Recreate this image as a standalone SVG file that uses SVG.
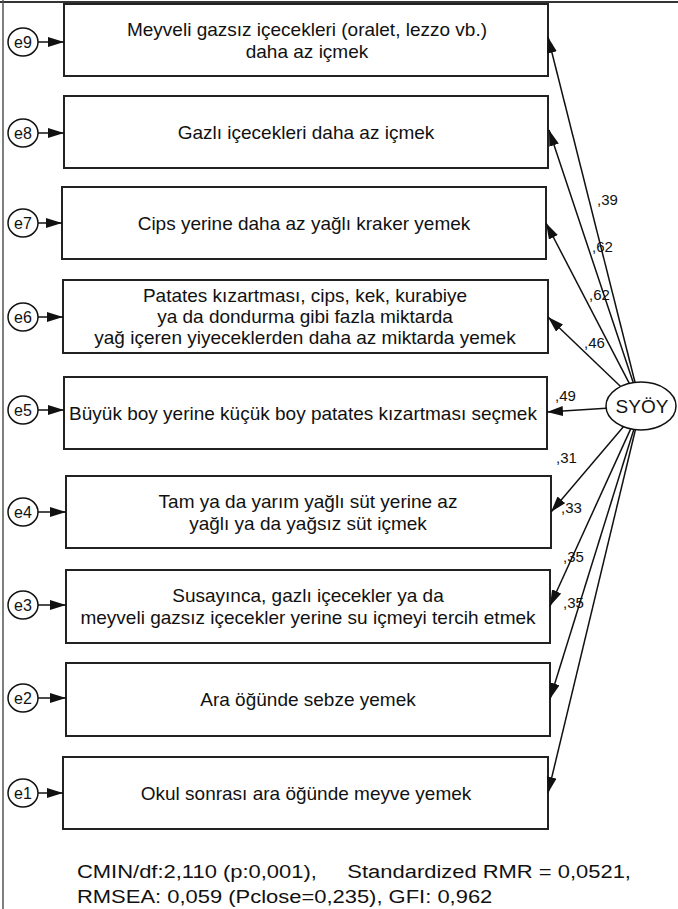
<svg xmlns="http://www.w3.org/2000/svg" width="678" height="909" viewBox="0 0 678 909">
<style>
.box{fill:#fff;stroke:#222;stroke-width:2}
.err{fill:#fff;stroke:#111;stroke-width:1.5}
.t{font-family:"Liberation Sans",Arial,sans-serif;font-size:19px;fill:#111;text-anchor:middle}
.e{font-family:"Liberation Sans",Arial,sans-serif;font-size:16px;fill:#111;text-anchor:middle}
.lb{font-family:"Liberation Sans",Arial,sans-serif;font-size:15px;fill:#111}
.c{stroke:#111;stroke-width:1.5;fill:none;marker-end:url(#ah)}
.fit{font-family:"Liberation Sans",Arial,sans-serif;font-size:19px;fill:#111}
</style>
<defs>
<marker id="ah" markerUnits="userSpaceOnUse" markerWidth="17" markerHeight="11" refX="16" refY="5" orient="auto">
<path d="M0,0 L16,5 L0,10 z" fill="#111"/>
</marker>
</defs>
<rect width="678" height="909" fill="#fff"/>
<line x1="0" y1="2" x2="678" y2="2" stroke="#333" stroke-width="2"/>
<line x1="3" y1="0" x2="3" y2="909" stroke="#555" stroke-width="1.5"/>

<g id="v9"><rect class="box" x="64" y="4" width="484" height="72"/><text class="t" x="307" y="36">Meyveli gazsız içecekleri (oralet, lezzo vb.)</text><text class="t" x="307" y="58">daha az içmek</text></g>
<g id="v8"><rect class="box" x="64" y="96" width="484" height="72"/><text class="t" x="306" y="139">Gazlı içecekleri daha az içmek</text></g>
<g id="v7"><rect class="box" x="62" y="187" width="484" height="72"/><text class="t" x="304" y="230">Cips yerine daha az yağlı kraker yemek</text></g>
<g id="v6"><rect class="box" x="63" y="280" width="485" height="73"/><text class="t" x="305" y="302">Patates kızartması, cips, kek, kurabiye</text><text class="t" x="305" y="323">ya da dondurma gibi fazla miktarda</text><text class="t" x="305" y="344">yağ içeren yiyeceklerden daha az miktarda yemek</text></g>
<g id="v5"><rect class="box" x="64" y="377" width="483" height="72"/><text class="t" x="303" y="420">Büyük boy yerine küçük boy patates kızartması seçmek</text></g>
<g id="v4"><rect class="box" x="66" y="476" width="485" height="72"/><text class="t" x="308" y="508">Tam ya da yarım yağlı süt yerine az</text><text class="t" x="308" y="530">yağlı ya da yağsız süt içmek</text></g>
<g id="v3"><rect class="box" x="66" y="570" width="484" height="73"/><text class="t" x="308" y="602">Susayınca, gazlı içecekler ya da</text><text class="t" x="308" y="624">meyveli gazsız içecekler yerine su içmeyi tercih etmek</text></g>
<g id="v2"><rect class="box" x="66" y="663" width="484" height="73"/><text class="t" x="308" y="706">Ara öğünde sebze yemek</text></g>
<g id="v1"><rect class="box" x="63" y="757" width="485" height="72"/><text class="t" x="306" y="800">Okul sonrası ara öğünde meyve yemek</text></g>

<g id="e9"><ellipse class="err" cx="23" cy="42" rx="15" ry="14"/><text class="e" x="23" y="48">e9</text></g>
<g id="e8"><ellipse class="err" cx="23" cy="133" rx="15" ry="14"/><text class="e" x="23" y="139">e8</text></g>
<g id="e7"><ellipse class="err" cx="23" cy="223" rx="15" ry="14"/><text class="e" x="23" y="229">e7</text></g>
<g id="e6"><ellipse class="err" cx="23" cy="317" rx="15" ry="14"/><text class="e" x="23" y="323">e6</text></g>
<g id="e5"><ellipse class="err" cx="23" cy="410" rx="15" ry="14"/><text class="e" x="23" y="416">e5</text></g>
<g id="e4"><ellipse class="err" cx="23" cy="512" rx="15" ry="14"/><text class="e" x="23" y="518">e4</text></g>
<g id="e3"><ellipse class="err" cx="23" cy="605" rx="15" ry="14"/><text class="e" x="23" y="611">e3</text></g>
<g id="e2"><ellipse class="err" cx="23" cy="698" rx="15" ry="14"/><text class="e" x="23" y="704">e2</text></g>
<g id="e1"><ellipse class="err" cx="23" cy="793" rx="15" ry="14"/><text class="e" x="23" y="799">e1</text></g>

<g id="SYOY"><ellipse class="err" cx="641" cy="406" rx="35" ry="24"/><text class="t" x="642" y="413">SYÖY</text></g>

<g id="connectors">
<line class="c" x1="38" y1="42" x2="64" y2="42"/>
<line class="c" x1="38" y1="133" x2="64" y2="133"/>
<line class="c" x1="38" y1="223" x2="62" y2="223"/>
<line class="c" x1="38" y1="317" x2="63" y2="317"/>
<line class="c" x1="38" y1="410" x2="64" y2="410"/>
<line class="c" x1="38" y1="512" x2="66" y2="512"/>
<line class="c" x1="38" y1="605" x2="66" y2="605"/>
<line class="c" x1="38" y1="698" x2="66" y2="698"/>
<line class="c" x1="38" y1="793" x2="63" y2="793"/>

<line class="c" x1="635" y1="382.3" x2="548" y2="37"/>
<line class="c" x1="633.2" y1="382.6" x2="549" y2="130"/>
<line class="c" x1="629.3" y1="383.4" x2="546" y2="223"/>
<line class="c" x1="620.6" y1="386.5" x2="548" y2="317"/>
<line class="c" x1="606.1" y1="408.2" x2="547" y2="412"/>
<line class="c" x1="623.4" y1="426.7" x2="551" y2="512"/>
<line class="c" x1="630.7" y1="428.9" x2="550" y2="606"/>
<line class="c" x1="633.8" y1="429.5" x2="550" y2="699"/>
<line class="c" x1="635.4" y1="429.7" x2="548" y2="793"/>
</g>

<g id="labels">
<text class="lb" x="597" y="205">,39</text>
<text class="lb" x="592" y="252">,62</text>
<text class="lb" x="589" y="300">,62</text>
<text class="lb" x="584" y="348">,46</text>
<text class="lb" x="555" y="401">,49</text>
<text class="lb" x="556" y="463">,31</text>
<text class="lb" x="561" y="513">,33</text>
<text class="lb" x="563" y="562">,35</text>
<text class="lb" x="563" y="608">,35</text>
</g>

<g id="fit">
<text class="fit" transform="translate(77,878) scale(1.156,1)" xml:space="preserve">CMIN/df:2,110 (p:0,001),     Standardized RMR = 0,0521,</text>
<text class="fit" transform="translate(77,903) scale(1.156,1)">RMSEA: 0,059 (Pclose=0,235), GFI: 0,962</text>
</g>
</svg>
